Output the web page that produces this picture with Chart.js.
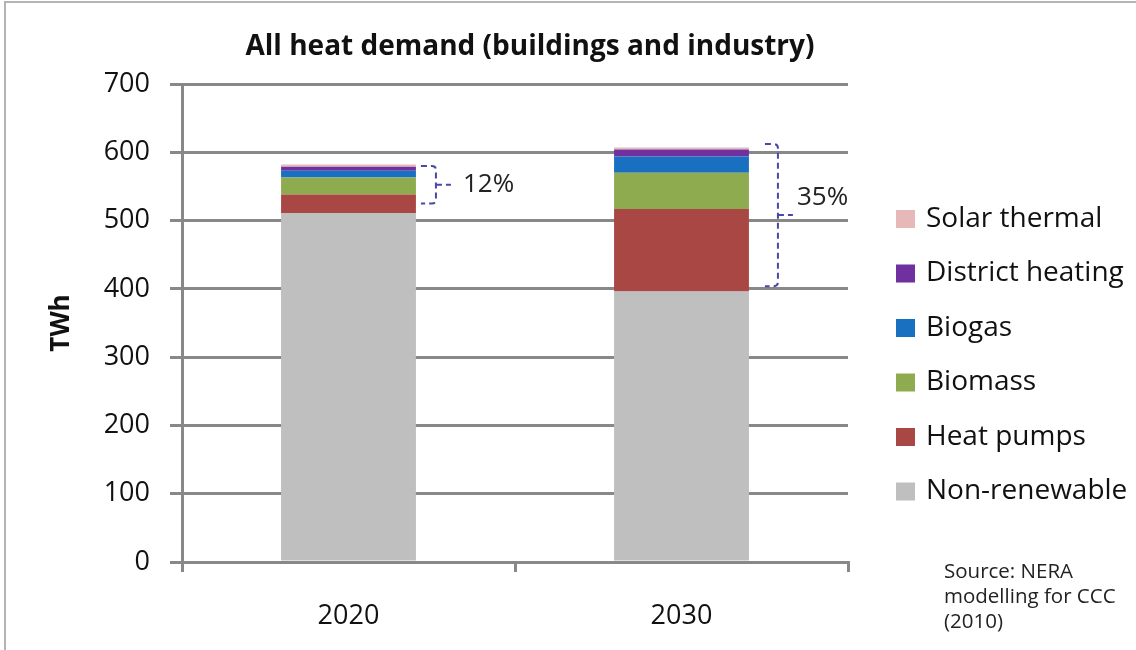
<!DOCTYPE html>
<html>
<head>
<meta charset="utf-8">
<script src="https://cdn.jsdelivr.net/npm/chart.js@4.4.1/dist/chart.umd.min.js"></script>
<style>
  html, body { margin: 0; padding: 0; background: #fff; overflow: hidden; }
  #wrap { position: relative; width: 1136px; height: 650px; }
  #frame { position: absolute; left: 4px; top: 1px; width: 1200px; height: 700px;
           border-left: 2px solid #b4b4b4; border-top: 2px solid #b4b4b4; }
  canvas { position: absolute; left: 0; top: 0; }
</style>
</head>
<body>
<div id="wrap">
  <div id="frame"></div>
  <canvas id="c" width="1136" height="650"></canvas>
</div>
<script>
// ---- data ----
const categories = ['2020', '2030'];
const seriesNames = ['Non-renewable', 'Heat pumps', 'Biomass', 'Biogas', 'District heating', 'Solar thermal'];
const nonRenewable = [511, 396];
const heatPumps = [27, 121];
const biomass = [25, 53];
const biogas = [10, 24];
const districtHeating = [6, 10];
const solarThermal = [3, 3];
const yTicks = [0, 100, 200, 300, 400, 500, 600, 700];
const bracketTop = [580, 612];
const bracketBottom = [525, 404];
const bracketLabels = ['12%', '35%'];
const titleText = 'All heat demand (buildings and industry)';
const yTitle = 'TWh';
const sourceLines = ['Source: NERA', 'modelling for CCC', '(2010)'];

const colors = ['#bfbfbf', '#a94744', '#8fab50', '#1a70c0', '#7030a0', '#e6b8b7'];
const seriesValues = [nonRenewable, heatPumps, biomass, biogas, districtHeating, solarThermal];

const FONT = "'Open Sans', 'DejaVu Sans', sans-serif";

const decorPlugin = {
  id: 'decor',
  afterDraw(chart) {
    const ctx = chart.ctx;
    const ys = chart.scales.y;
    const meta = chart.getDatasetMeta(0);
    ctx.save();
    // title
    ctx.fillStyle = '#111';
    ctx.font = "bold 28px " + FONT;
    ctx.textAlign = 'center';
    ctx.textBaseline = 'middle';
    ctx.fillText(titleText, 530, 47);

    // brackets
    const geo = [
      { x0: 5, x1: 20, xn: 35, lx: 47, ly: 0 },
      { x0: 16, x1: 29, xn: 44, lx: 48, ly: -18 }
    ];
    ctx.strokeStyle = '#4848a8';
    ctx.lineWidth = 2;
    ctx.setLineDash([6, 4]);
    for (let i = 0; i < bracketTop.length; i++) {
      const bar = meta.data[i];
      const right = bar.x + bar.width / 2;
      const g = geo[i];
      const t = ys.getPixelForValue(bracketTop[i]);
      const b = ys.getPixelForValue(bracketBottom[i]);
      const m = (t + b) / 2;
      const r = 4;
      ctx.beginPath();
      ctx.moveTo(right + g.x0, t);
      ctx.lineTo(right + g.x1 - r, t);
      ctx.quadraticCurveTo(right + g.x1, t, right + g.x1, t + r);
      ctx.lineTo(right + g.x1, b - r);
      ctx.quadraticCurveTo(right + g.x1, b, right + g.x1 - r, b);
      ctx.lineTo(right + g.x0, b);
      ctx.stroke();
      ctx.beginPath();
      ctx.moveTo(right + g.x1, m);
      ctx.lineTo(right + g.xn, m);
      ctx.stroke();
    }
    ctx.setLineDash([]);
    ctx.fillStyle = '#222';
    ctx.font = "26px " + FONT;
    ctx.textAlign = 'left';
    ctx.textBaseline = 'middle';
    for (let i = 0; i < bracketTop.length; i++) {
      const bar = meta.data[i];
      const right = bar.x + bar.width / 2;
      const t = ys.getPixelForValue(bracketTop[i]);
      const b = ys.getPixelForValue(bracketBottom[i]);
      ctx.fillText(bracketLabels[i], right + geo[i].lx, (t + b) / 2 + geo[i].ly);
    }

    // legend (reversed order)
    ctx.font = "28px " + FONT;
    const order = seriesNames.map((n, i) => i).reverse();
    order.forEach((idx, k) => {
      const cy = 219 + k * 54.5;
      ctx.fillStyle = colors[idx];
      ctx.fillRect(896, cy - 9, 19, 18);
      ctx.fillStyle = '#111';
      ctx.fillText(seriesNames[idx], 926, cy);
    });

    // source
    ctx.font = "20.5px " + FONT;
    ctx.fillStyle = '#222';
    sourceLines.forEach((s, k) => ctx.fillText(s, 944, 572 + k * 25));
    ctx.restore();
  }
};

new Chart(document.getElementById('c'), {
  type: 'bar',
  data: {
    labels: categories,
    datasets: seriesNames.map((name, i) => ({
      label: name,
      data: seriesValues[i],
      backgroundColor: colors[i],
      borderWidth: 0,
      barPercentage: 0.405,
      categoryPercentage: 1.0
    }))
  },
  options: {
    responsive: false,
    animation: false,
    devicePixelRatio: 1,
    layout: { padding: { left: 0, right: 288, top: 84, bottom: 0 } },
    plugins: {
      legend: { display: false },
      title: { display: false },
      tooltip: { enabled: false }
    },
    scales: {
      x: {
        stacked: true,
        afterFit(axis) { axis.height = 88; },
        grid: { drawOnChartArea: false, drawTicks: true, tickLength: 10, color: '#888', lineWidth: 3 },
        border: { display: true, color: '#888', width: 3 },
        ticks: { font: { family: FONT, size: 27 }, color: '#111', padding: 28 }
      },
      y: {
        stacked: true,
        min: 0,
        max: 700,
        afterFit(axis) { axis.width = 182; },
        afterBuildTicks(axis) { axis.ticks = yTicks.map(v => ({ value: v })); },
        grid: { color: '#888', lineWidth: 3, tickLength: 12, drawTicks: true },
        border: { display: true, color: '#888', width: 3 },
        ticks: { font: { family: FONT, size: 27 }, color: '#111', padding: 20 },
        title: { display: true, text: yTitle, font: { family: FONT, size: 26, weight: 'bold' }, color: '#111', padding: { top: 46, bottom: 0 } }
      }
    }
  },
  plugins: [decorPlugin]
});
</script>
</body>
</html>
